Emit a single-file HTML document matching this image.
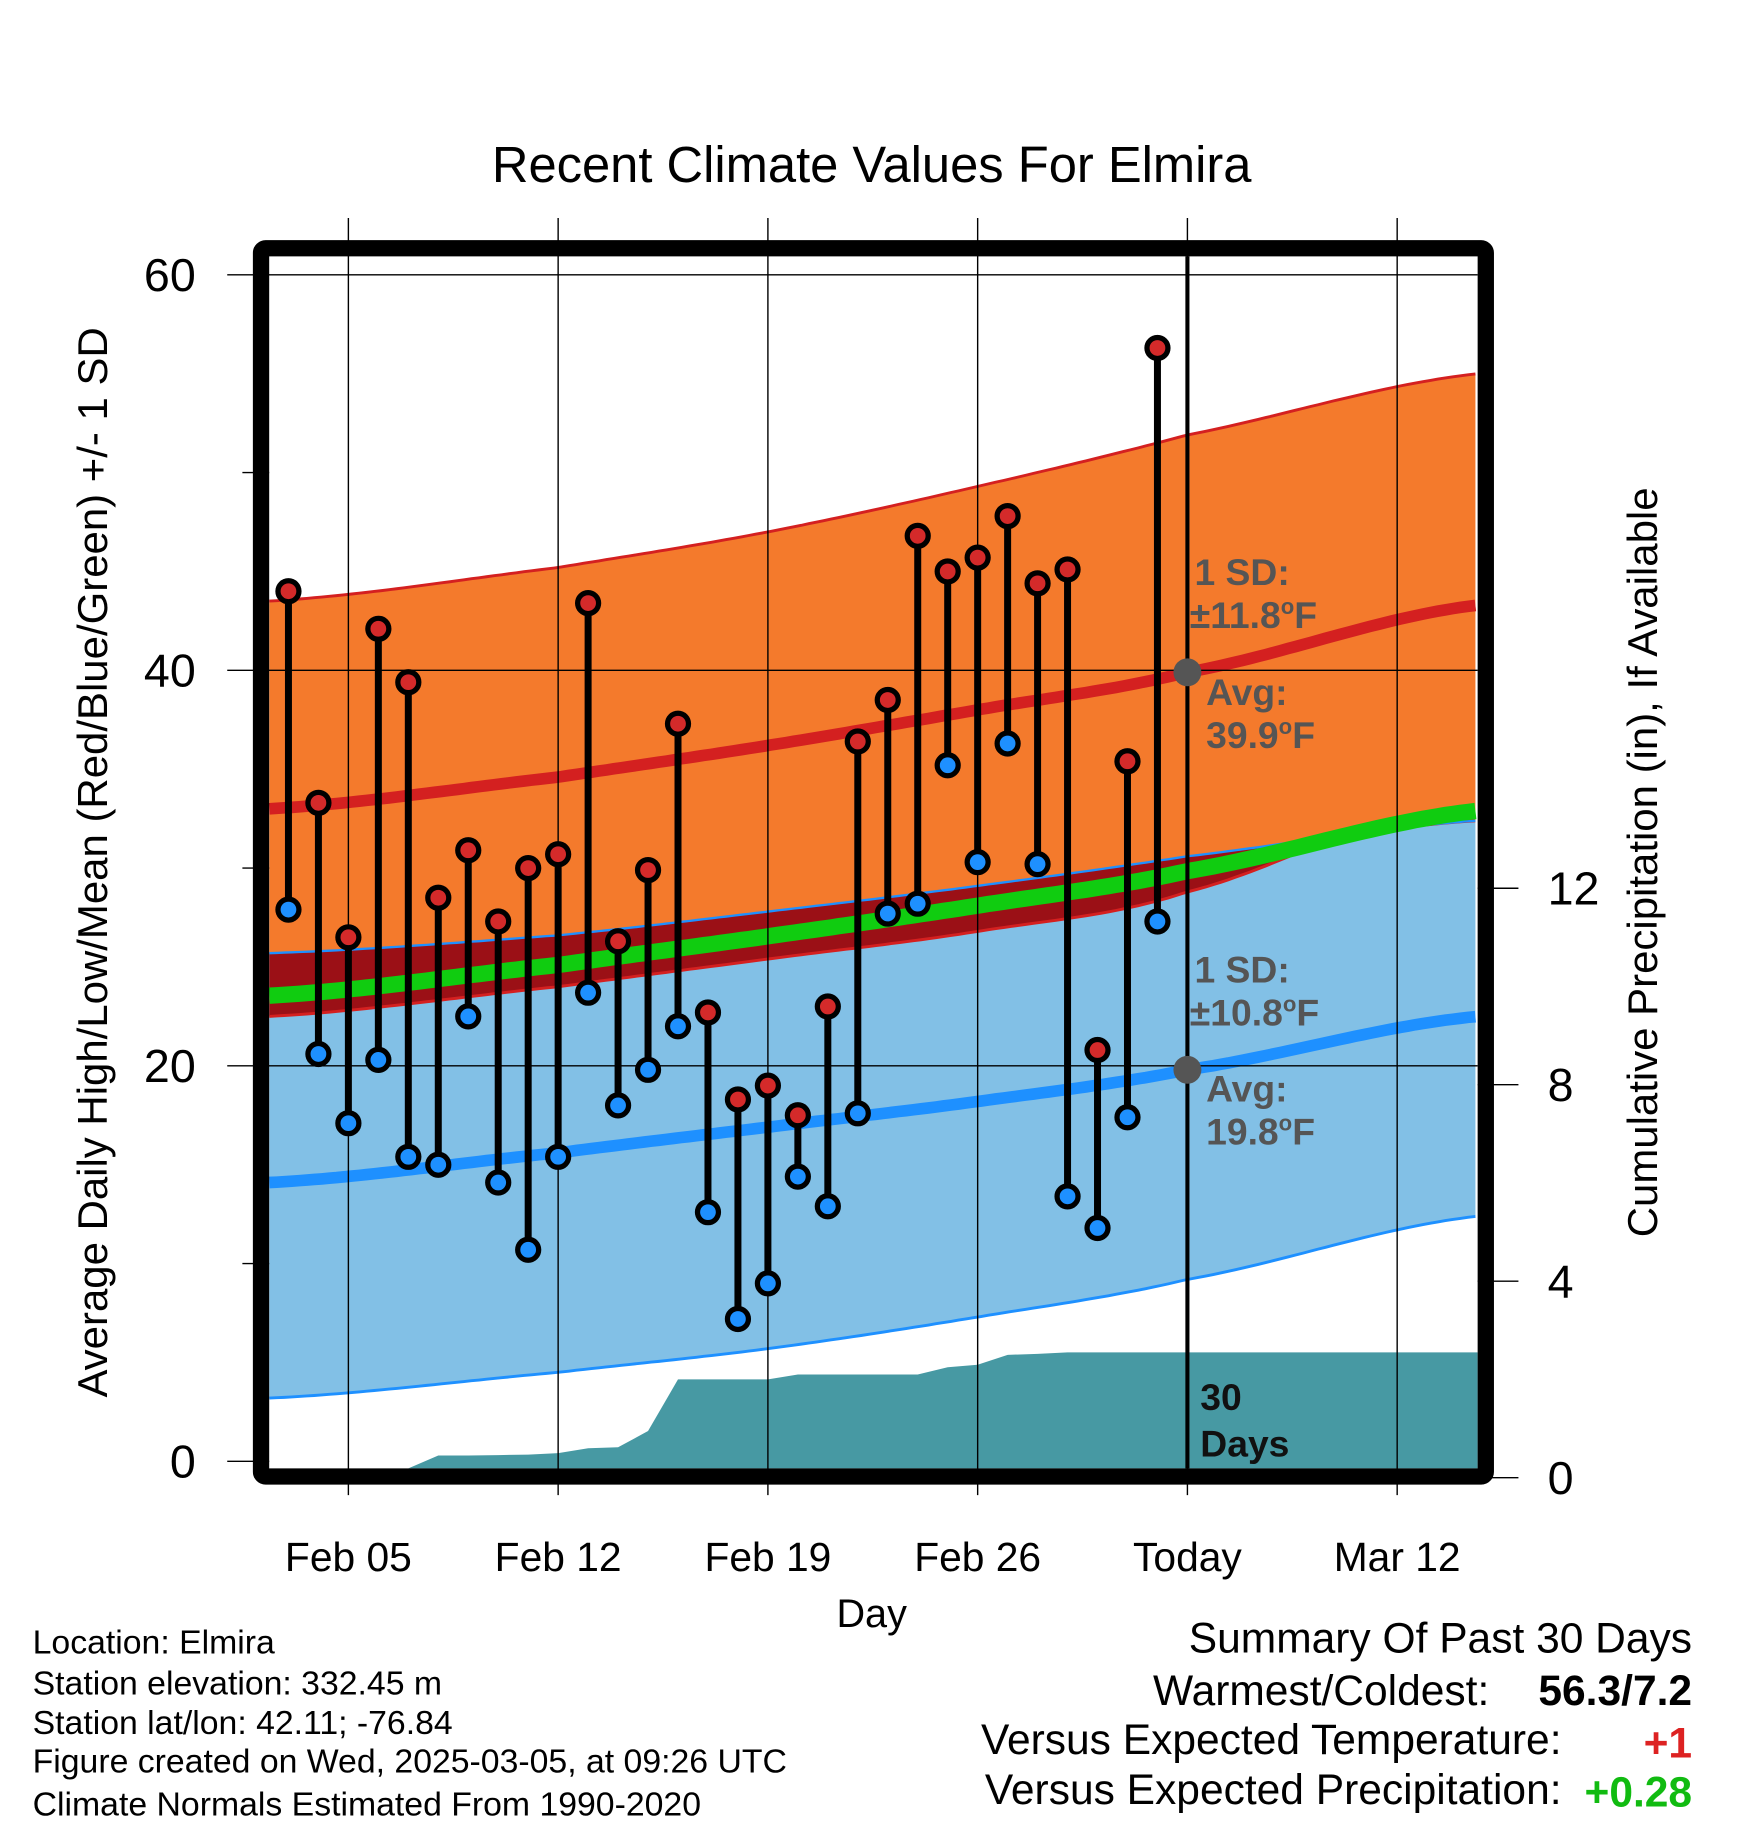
<!DOCTYPE html>
<html><head><meta charset="utf-8"><style>
html,body{margin:0;padding:0;background:#fff}
svg{display:block;font-family:"Liberation Sans",sans-serif}
</style></head><body>
<svg id="chart" width="1748" height="1828" viewBox="0 0 1500 1568.6" xmlns="http://www.w3.org/2000/svg">
<rect width="1500" height="1568.6" fill="#fff"/>
<text x="748" y="156" font-size="43.5" text-anchor="middle">Recent Climate Values For Elmira</text>
<g id="bands"></g><g id="precip"></g><g id="grid"></g><g id="marks"></g><g id="frame"></g><g id="labels"></g>
<text x="748" y="1396" font-size="34" text-anchor="middle">Day</text>
<text transform="translate(92,740) rotate(-90)" font-size="36" text-anchor="middle">Average Daily High/Low/Mean (Red/Blue/Green) +/- 1 SD</text>
<text transform="translate(1422,740) rotate(-90)" font-size="36" text-anchor="middle">Cumulative Precipitation (in), If Available</text>
<g font-size="29">
<text x="28" y="1419">Location: Elmira</text>
<text x="28" y="1454">Station elevation: 332.45 m</text>
<text x="28" y="1488">Station lat/lon: 42.11; -76.84</text>
<text x="28" y="1521">Figure created on Wed, 2025-03-05, at 09:26 UTC</text>
<text x="28" y="1558">Climate Normals Estimated From 1990-2020</text>
</g>
<g font-size="36.5" text-anchor="end">
<text x="1452" y="1418">Summary Of Past 30 Days</text>
<text x="1278" y="1463">Warmest/Coldest:</text>
<text x="1452" y="1463" font-weight="bold">56.3/7.2</text>
<text x="1340" y="1505">Versus Expected Temperature:</text>
<text x="1452" y="1508" font-weight="bold" fill="#dd2222">+1</text>
<text x="1340" y="1548">Versus Expected Precipitation:</text>
<text x="1452" y="1550" font-weight="bold" fill="#11bb11">+0.28</text>
</g>
</svg>
<script>
const days=[2,3,4,5,6,7,8,9,10,11,12,13,14,15,16,17,18,19,20,21,22,23,24,25,26,27,28,29,30,31];
const highs=[44.0,33.3,26.5,42.1,39.4,28.5,30.9,27.3,30.0,30.7,43.4,26.3,29.9,37.3,22.7,18.3,19.0,17.5,23.0,36.4,38.5,46.8,45.0,45.7,47.8,44.4,45.1,20.8,35.4,56.3];
const lows=[27.9,20.6,17.1,20.3,15.4,15.0,22.5,14.1,10.7,15.4,23.7,18.0,19.8,22.0,12.6,7.2,9.0,14.4,12.9,17.6,27.7,28.2,35.2,30.3,36.3,30.2,13.4,11.8,17.4,27.3];
const precip=[0,0,0,0,0,0.45,0.45,0.46,0.47,0.5,0.6,0.62,0.95,2.0,2.0,2.0,2.0,2.1,2.1,2.1,2.1,2.1,2.25,2.3,2.5,2.52,2.55,2.55,2.55,2.55];
const normDays=[1.36,11,18,25,32,41.7];
const hiMean=[33.0,34.6,36.2,38.0,39.9,43.3];
const hiUpper=[43.5,45.2,47.0,49.3,51.9,55.0];
const hiLower=[22.5,24.0,25.4,26.8,28.8,34.0];
const loMean=[14.1,15.6,16.9,18.2,19.8,22.5];
const loUpper=[25.7,26.6,27.8,29.1,30.6,32.4];
const loLower=[3.2,4.5,5.7,7.3,9.2,12.4];
const xTickDays=[4,11,18,25,32,39];
const xTickLabels=["Feb 05","Feb 12","Feb 19","Feb 26","Today","Mar 12"];
const yTicks=[0,20,40,60];const yMinor=[10,30,50];
const y2Ticks=[0,4,8,12];
const todayDay=32;

const NS="http://www.w3.org/2000/svg";
const X=d=>196.1+25.714*d;
const Y=v=>1254-16.97*v;
const Y2=p=>1268-42.15*p;
const L=231,R=1268,T=220,B=1260;
function el(p,t,a){const e=document.createElementNS(NS,t);for(const k in a)e.setAttribute(k,a[k]);p.appendChild(e);return e;}
function interp(arr,d){for(let i=0;i<normDays.length-1;i++){if(d<=normDays[i+1]||i==normDays.length-2){const t=(d-normDays[i])/(normDays[i+1]-normDays[i]);
const p0=arr[Math.max(0,i-1)],p1=arr[i],p2=arr[i+1],p3=arr[Math.min(arr.length-1,i+2)];
return 0.5*((2*p1)+(-p0+p2)*t+(2*p0-5*p1+4*p2-p3)*t*t+(-p0+3*p1-3*p2+p3)*t*t*t);}}}
const sd=[];for(let d=normDays[0];d<=normDays[normDays.length-1]+0.001;d+=0.25)sd.push(d);
function line(f){return sd.map(d=>[X(d),Y(f(d))]);}
function pts(a){return a.map(p=>p[0].toFixed(1)+","+p[1].toFixed(1)).join(" ");}
const bands=document.getElementById('bands');
const hu=line(d=>interp(hiUpper,d)),lu=line(d=>interp(loUpper,d)),ll=line(d=>interp(loLower,d));
const hlmin=line(d=>Math.min(interp(loUpper,d),interp(hiLower,d)));
let e;
e=el(bands,'polygon',{points:pts(hu.concat(hlmin.slice().reverse())),fill:'#f47a2c'});

e=el(bands,'polygon',{points:pts(lu.concat(ll.slice().reverse())),fill:'#82c0e6'});

e=el(bands,'polygon',{points:pts(lu.concat(hlmin.slice().reverse())),fill:'#9b1016'});

const lines=[[hu,'#d42020',2.5,'high-upper-line'],[hlmin,'#d42020',2.5,'high-lower-line'],[lu,'#1e90ff',2,'low-upper-line'],[ll,'#1e90ff',2.5,'low-lower-line'],
[line(d=>(interp(hiMean,d)+interp(loMean,d))/2),'#10cc10',14,'mean-line'],[line(d=>interp(hiMean,d)),'#d42020',10,'high-mean-line'],[line(d=>interp(loMean,d)),'#1e90ff',10,'low-mean-line']];
lines.forEach(l=>{e=el(bands,'polyline',{points:pts(l[0]),fill:'none',stroke:l[1],'stroke-width':l[2]});

});
const pg=document.getElementById('precip');
let pp=[[X(days[0]),B]];days.forEach((d,i)=>pp.push([X(d),Math.min(B,Y2(precip[i]))]));
pp.push([R,Math.min(B,Y2(precip[precip.length-1]))]);pp.push([R,B]);
e=el(pg,'polygon',{points:pts(pp),fill:'#4799a3'});

const g=document.getElementById('grid');
xTickDays.forEach((d,i)=>{e=el(g,'line',{x1:X(d),x2:X(d),y1:187,y2:1283,stroke:'#000','stroke-width':1.2});

e=el(g,'text',{x:X(d),y:1348,'font-size':35,'text-anchor':'middle'});e.textContent=xTickLabels[i];
});
yTicks.forEach(v=>{e=el(g,'line',{x1:195,x2:v>0?R:L,y1:Y(v),y2:Y(v),stroke:'#000','stroke-width':1.2});

e=el(g,'text',{x:168,y:Y(v)+14,'font-size':40,'text-anchor':'end'});e.textContent=v;
});
yMinor.forEach(v=>{e=el(g,'line',{x1:208,x2:L,y1:Y(v),y2:Y(v),stroke:'#000','stroke-width':1.2});
});
y2Ticks.forEach(v=>{e=el(g,'line',{x1:R,x2:1303,y1:Y2(v),y2:Y2(v),stroke:'#000','stroke-width':1.2});

e=el(g,'text',{x:1328,y:Y2(v)+14,'font-size':40});e.textContent=v;
});
const m=document.getElementById('marks');
days.forEach((d,i)=>{const x=X(d);
e=el(m,'line',{x1:x,x2:x,y1:Y(highs[i]),y2:Y(lows[i]),stroke:'#000','stroke-width':6});

e=el(m,'circle',{cx:x,cy:Y(highs[i]),r:9,fill:'#d42a2a',stroke:'#000','stroke-width':4.5});

e=el(m,'circle',{cx:x,cy:Y(lows[i]),r:9,fill:'#1e90ff',stroke:'#000','stroke-width':4.5});
});
e=el(m,'line',{x1:X(todayDay),x2:X(todayDay),y1:T,y2:B,stroke:'#000','stroke-width':3.5});

[interp(hiMean,todayDay),interp(loMean,todayDay)].forEach(v=>{e=el(m,'circle',{cx:X(todayDay),cy:Y(v),r:12,fill:'#555'});
});
const f=document.getElementById('frame');
e=el(f,'rect',{x:224,y:213,width:1051,height:1054,fill:'none',stroke:'#000','stroke-width':14,rx:4});

const lb=document.getElementById('labels');
function txt(x,y,s,name,fill,size){const t=el(lb,'text',{x:x,y:y,'font-size':size||32,'font-weight':'bold',fill:fill||'#555'});t.innerHTML=s;
return t;}
const deg='<tspan dy="-12" font-size="19">o</tspan><tspan dy="12">F</tspan>';
txt(1025,502,'1 SD:','high-sd-label');
txt(1021,539,'±11.8'+deg,'high-sd-value');
txt(1035,605,'Avg:','high-avg-label');
txt(1035,642,'39.9'+deg,'high-avg-value');
txt(1025,843,'1 SD:','low-sd-label');
txt(1021,880,'±10.8'+deg,'low-sd-value');
txt(1035,945,'Avg:','low-avg-label');
txt(1035,982,'19.8'+deg,'low-avg-value');
txt(1030,1210,'30','days-count','#111');
txt(1030,1250,'Days','days-label','#111');
</script>
</body></html>
